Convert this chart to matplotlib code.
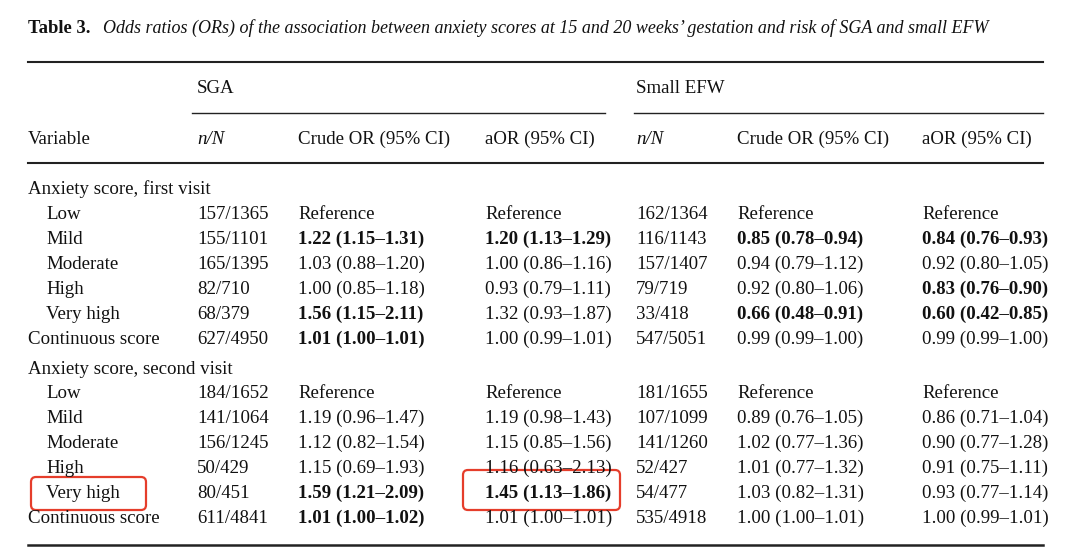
import matplotlib.pyplot as plt
from matplotlib.patches import FancyBboxPatch

# Table content
title_bold = "Table 3."
title_rest = ("Odds ratios (ORs) of the association between anxiety scores at 15 and 20 "
              "weeks\u2019 gestation and risk of SGA and small EFW")
groups = ["SGA", "Small EFW"]
col_headers = ["Variable", "n/N", "Crude OR (95% CI)", "aOR (95% CI)",
               "n/N", "Crude OR (95% CI)", "aOR (95% CI)"]
sections = ["Anxiety score, first visit", "Anxiety score, second visit"]
levels = ["Low", "Mild", "Moderate", "High", "Very high", "Continuous score"]

# first visit
sga_n_1 = ["157/1365", "155/1101", "165/1395", "82/710", "68/379", "627/4950"]
sga_crude_1 = ["Reference", "1.22 (1.15\u20131.31)", "1.03 (0.88\u20131.20)",
               "1.00 (0.85\u20131.18)", "1.56 (1.15\u20132.11)", "1.01 (1.00\u20131.01)"]
sga_aor_1 = ["Reference", "1.20 (1.13\u20131.29)", "1.00 (0.86\u20131.16)",
             "0.93 (0.79\u20131.11)", "1.32 (0.93\u20131.87)", "1.00 (0.99\u20131.01)"]
efw_n_1 = ["162/1364", "116/1143", "157/1407", "79/719", "33/418", "547/5051"]
efw_crude_1 = ["Reference", "0.85 (0.78\u20130.94)", "0.94 (0.79\u20131.12)",
               "0.92 (0.80\u20131.06)", "0.66 (0.48\u20130.91)", "0.99 (0.99\u20131.00)"]
efw_aor_1 = ["Reference", "0.84 (0.76\u20130.93)", "0.92 (0.80\u20131.05)",
             "0.83 (0.76\u20130.90)", "0.60 (0.42\u20130.85)", "0.99 (0.99\u20131.00)"]

# second visit
sga_n_2 = ["184/1652", "141/1064", "156/1245", "50/429", "80/451", "611/4841"]
sga_crude_2 = ["Reference", "1.19 (0.96\u20131.47)", "1.12 (0.82\u20131.54)",
               "1.15 (0.69\u20131.93)", "1.59 (1.21\u20132.09)", "1.01 (1.00\u20131.02)"]
sga_aor_2 = ["Reference", "1.19 (0.98\u20131.43)", "1.15 (0.85\u20131.56)",
             "1.16 (0.63\u20132.13)", "1.45 (1.13\u20131.86)", "1.01 (1.00\u20131.01)"]
efw_n_2 = ["181/1655", "107/1099", "141/1260", "52/427", "54/477", "535/4918"]
efw_crude_2 = ["Reference", "0.89 (0.76\u20131.05)", "1.02 (0.77\u20131.36)",
               "1.01 (0.77\u20131.32)", "1.03 (0.82\u20131.31)", "1.00 (1.00\u20131.01)"]
efw_aor_2 = ["Reference", "0.86 (0.71\u20131.04)", "0.90 (0.77\u20131.28)",
             "0.91 (0.75\u20131.11)", "0.93 (0.77\u20131.14)", "1.00 (0.99\u20131.01)"]

# significant cells shown in bold (section, row, column)
bold_cells = [(0, 1, 2), (0, 1, 3), (0, 1, 5), (0, 1, 6), (0, 3, 6),
              (0, 4, 2), (0, 4, 5), (0, 4, 6), (0, 5, 2),
              (1, 4, 2), (1, 4, 3), (1, 5, 2)]

plt.rcParams['font.family'] = ['Liberation Serif', 'DejaVu Serif']
fs = 13.6
bl = 6   # baseline offset from row centre, px (whole pixels keep rows level)

fig = plt.figure(figsize=(10.8, 5.47), dpi=100)
ax = fig.add_axes([0, 0, 1, 1])
ax.set_xlim(0, 1080)
ax.set_ylim(547, 0)
ax.axis("off")

col_x = [28, 197, 298, 485, 636, 737, 922]


def cell(x, y, s, **kw):
    ax.text(x, y + bl + 0.25, s, fontsize=kw.pop("size", fs), va="baseline",
            color="#111111", **kw)


# title
cell(28, 27, title_bold, size=13.4, fontweight="bold")
cell(103, 27, title_rest, size=13, style="italic")

# rules
ax.plot([28, 1043], [62, 62], color="#222222", lw=1.5)
ax.plot([192, 605], [113, 113], color="#222222", lw=1.0)
ax.plot([634, 1043], [113, 113], color="#222222", lw=1.0)
ax.plot([28, 1043], [163, 163], color="#222222", lw=1.5)
ax.plot([28, 1043], [545, 545], color="#222222", lw=1.8)

# headers
cell(col_x[1], 87, groups[0])
cell(col_x[4], 87, groups[1])
for i, h in enumerate(col_headers):
    cell(col_x[i], 138, h, style="italic" if h == "n/N" else "normal")

# body
sec_data = [
    [sga_n_1, sga_crude_1, sga_aor_1, efw_n_1, efw_crude_1, efw_aor_1],
    [sga_n_2, sga_crude_2, sga_aor_2, efw_n_2, efw_crude_2, efw_aor_2],
]
sec_y = [188, 368]
for s, name in enumerate(sections):
    y0 = sec_y[s]
    cell(col_x[0], y0, name)
    for r, lev in enumerate(levels):
        y = y0 + 25 * (r + 1) if s == 0 else y0 + 24 + 25 * r
        x0 = col_x[0] if lev.startswith("Continuous") else 46
        cell(x0, y, lev)
        for c, col in enumerate(sec_data[s]):
            bold = (s, r, c + 1) in bold_cells
            cell(col_x[c + 1], y, col[r], fontweight="bold" if bold else "normal")

# red highlight boxes
for (x, y, w, h) in [(31, 477, 115, 33), (463, 470, 157, 40)]:
    ax.add_patch(FancyBboxPatch((x, y), w, h,
                                boxstyle="round,pad=0,rounding_size=5",
                                fill=False, edgecolor="#e53d2b", lw=1.6))

fig.savefig("out.png", dpi=100)
